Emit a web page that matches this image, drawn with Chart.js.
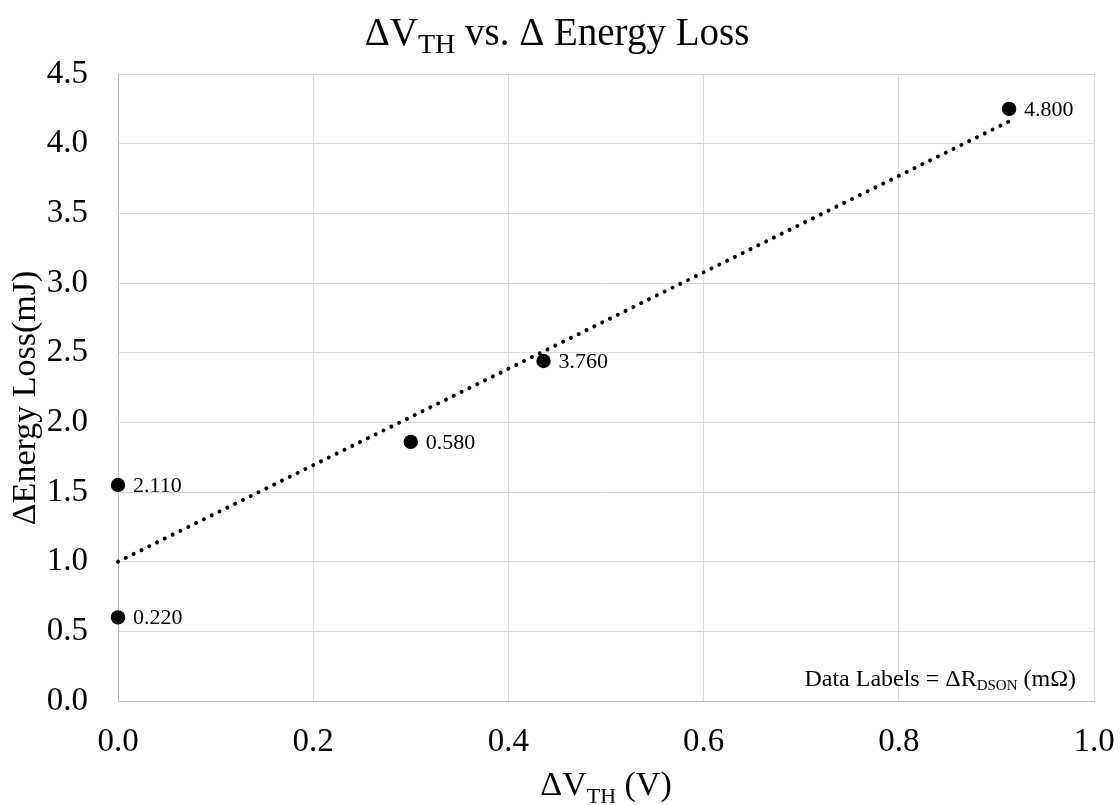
<!DOCTYPE html>
<html>
<head>
<meta charset="utf-8">
<script src="https://cdn.jsdelivr.net/npm/chart.js@4.4.1/dist/chart.umd.min.js"></script>
<style>
  html, body { margin: 0; padding: 0; background: #ffffff; }
  #wrap { width: 1120px; height: 805px; }
</style>
</head>
<body>
<div id="wrap"><canvas id="chart" width="1120" height="805"></canvas></div>
<script>
// Threshold-voltage shift vs. energy-loss shift per device
const deltaVth = [0.0, 0.0, 0.300, 0.436, 0.913];
const deltaEnergy = [0.60, 1.55, 1.86, 2.44, 4.25];
const deltaRdson = ['0.220', '2.110', '0.580', '3.760', '4.800'];

// Linear trend line end points
const trendX = [0.0, 0.913];
const trendY = [1.00, 4.16];

// Axis ranges and tick steps
const xRange = [0.0, 1.0];
const xStep = 0.2;
const yRange = [0.0, 4.5];
const yStep = 0.5;

const SERIF = '"Liberation Serif", "Times New Roman", serif';

// Draws a run of text pieces (some as subscripts) on one baseline
function drawRich(ctx, parts, x, y, align) {
  let total = 0;
  parts.forEach(p => {
    ctx.font = p.s + 'px ' + SERIF;
    p.w = ctx.measureText(p.t).width;
    total += p.w;
  });
  let cx = align === 'center' ? x - total / 2 : (align === 'right' ? x - total : x);
  ctx.textAlign = 'left';
  ctx.textBaseline = 'alphabetic';
  parts.forEach(p => {
    ctx.font = p.s + 'px ' + SERIF;
    ctx.fillText(p.t, cx, y + (p.dy || 0));
    cx += p.w;
  });
}

const textPlugin = {
  id: 'textPlugin',
  afterDatasetsDraw(chart) {
    const ctx = chart.ctx;
    const xs = chart.scales.x, ys = chart.scales.y;
    ctx.save();
    ctx.fillStyle = '#000000';

    // point labels
    ctx.font = '22px ' + SERIF;
    ctx.textAlign = 'left';
    ctx.textBaseline = 'middle';
    deltaVth.forEach((v, i) => {
      const px = xs.getPixelForValue(v);
      const py = ys.getPixelForValue(deltaEnergy[i]);
      ctx.fillText(deltaRdson[i], px + 15, py + 1);
    });

    // chart title
    drawRich(ctx, [
      { t: 'ΔV', s: 39 },
      { t: 'TH', s: 28, dy: 8 },
      { t: ' vs. Δ Energy Loss', s: 39 }
    ], 557, 45, 'center');

    // x axis title
    const xc = (chart.chartArea.left + chart.chartArea.right) / 2;
    drawRich(ctx, [
      { t: 'ΔV', s: 34 },
      { t: 'TH', s: 22, dy: 8 },
      { t: ' (V)', s: 34 }
    ], xc, 795, 'center');

    // y axis title
    ctx.save();
    ctx.translate(35, 398);
    ctx.rotate(-Math.PI / 2);
    ctx.font = '34px ' + SERIF;
    ctx.textAlign = 'center';
    ctx.textBaseline = 'alphabetic';
    ctx.fillText('ΔEnergy Loss(mJ)', 0, 0);
    ctx.restore();

    // note on label meaning, tucked in the lower right corner of the plot
    drawRich(ctx, [
      { t: 'Data Labels = ΔR', s: 24 },
      { t: 'DSON', s: 15, dy: 4 },
      { t: ' (mΩ)', s: 24 }
    ], chart.chartArea.right - 18, 686, 'right');

    ctx.restore();
  }
};

new Chart(document.getElementById('chart'), {
  type: 'scatter',
  data: {
    datasets: [
      {
        type: 'line',
        label: 'Linear trend',
        data: trendX.map((x, i) => ({ x: x, y: trendY[i] })),
        borderColor: '#000000',
        borderWidth: 4,
        borderDash: [0.01, 8.7],
        borderCapStyle: 'round',
        pointRadius: 0,
        fill: false,
        clip: false,
        order: 2
      },
      {
        label: 'ΔEnergy Loss',
        data: deltaVth.map((x, i) => ({ x: x, y: deltaEnergy[i] })),
        backgroundColor: '#000000',
        borderWidth: 0,
        pointRadius: 7.2,
        pointHoverRadius: 7.2,
        clip: false,
        order: 1
      }
    ]
  },
  options: {
    responsive: false,
    animation: false,
    devicePixelRatio: 1,
    layout: { padding: { top: 74, right: 26, left: 0, bottom: 0 } },
    plugins: {
      legend: { display: false },
      title: { display: false },
      tooltip: { enabled: false }
    },
    scales: {
      x: {
        type: 'linear',
        min: xRange[0],
        max: xRange[1],
        afterFit: s => { s.height = 104; s.paddingLeft = 0; s.paddingRight = 0; },
        ticks: {
          stepSize: xStep,
          padding: 22,
          color: '#000000',
          font: { family: SERIF, size: 33 },
          callback: v => Number(v).toFixed(1)
        },
        grid: { color: '#d9d9d9', lineWidth: 1, drawTicks: false },
        border: { display: true, color: '#bfbfbf', width: 1 }
      },
      y: {
        type: 'linear',
        min: yRange[0],
        max: yRange[1],
        afterFit: s => { s.width = 118; s.paddingTop = 0; s.paddingBottom = 0; },
        ticks: {
          stepSize: yStep,
          padding: 30,
          color: '#000000',
          font: { family: SERIF, size: 33 },
          callback: v => Number(v).toFixed(1)
        },
        grid: { color: '#d9d9d9', lineWidth: 1, drawTicks: false },
        border: { display: true, color: '#bfbfbf', width: 1 }
      }
    }
  },
  plugins: [textPlugin]
});
</script>
</body>
</html>
